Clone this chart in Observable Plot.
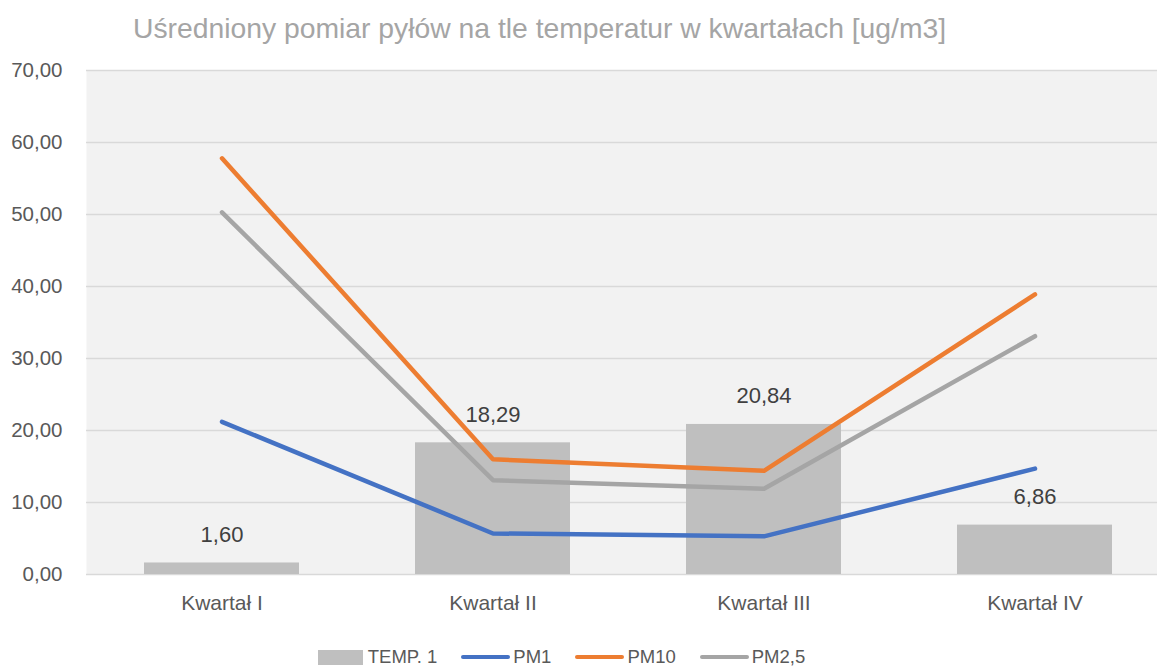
<!DOCTYPE html>
<html><head><meta charset="utf-8">
<script src="https://cdn.jsdelivr.net/npm/d3@7"></script>
<script src="https://cdn.jsdelivr.net/npm/@observablehq/plot@0.6"></script>
<style>
body{margin:0;background:#fff;font-family:"Liberation Sans",Arial,sans-serif;width:1157px;height:668px;overflow:hidden}
#title{height:56px;position:relative}
#title span{position:absolute;left:133px;top:12px;font-size:28.3px;color:#a5a5a5;white-space:nowrap;line-height:32px}
#legend{display:flex;justify-content:center;align-items:center;height:34px;font-size:18.5px;color:#595959;padding-right:34px}
.item{display:flex;align-items:center;margin:0 12px}
.sw{width:45px;height:15px;background:#bfbfbf;margin-right:5px}
.ln{width:49px;height:4px;border-radius:2px;margin-right:3px}
</style></head><body>
<div id="title"><span>Uśredniony pomiar pyłów na tle temperatur w kwartałach [ug/m3]</span></div>
<div id="chart"></div>
<div id="legend"></div>
<script>
const categories = ["Kwartał I", "Kwartał II", "Kwartał III", "Kwartał IV"];
const temp = [1.60, 18.29, 20.84, 6.86];
const pm1 = [21.2, 5.7, 5.3, 14.7];
const pm10 = [57.8, 16.0, 14.4, 38.9];
const pm25 = [50.3, 13.1, 11.9, 33.1];
const yTicks = [0, 10, 20, 30, 40, 50, 60, 70];
const seriesNames = ["TEMP. 1", "PM1", "PM10", "PM2,5"];
const colors = {"PM1": "#4472c4", "PM10": "#ed7d31", "PM2,5": "#a5a5a5", "TEMP. 1": "#bfbfbf"};

const bars = categories.map((c, i) => ({cat: c, v: temp[i]}));
const lines = [];
[["PM1", pm1], ["PM10", pm10], ["PM2,5", pm25]].forEach(([name, arr]) =>
  arr.forEach((v, i) => lines.push({cat: categories[i], v, s: name})));
const fmt = d => d.toFixed(2).replace(".", ",");

const plot = Plot.plot({
  width: 1157, height: 584,
  marginLeft: 86, marginRight: 0, marginTop: 14, marginBottom: 66,
  style: {fontFamily: '"Liberation Sans", Arial, sans-serif', background: "transparent"},
  x: {domain: categories, range: [86, 1170], paddingInner: 0.428, paddingOuter: 0.214, label: null},
  y: {domain: [0, 70], label: null},
  marks: [
    Plot.frame({fill: "#f2f2f2", stroke: null}),
    Plot.gridY(yTicks, {stroke: "#d9d9d9", strokeOpacity: 1, strokeWidth: 1.5}),
    Plot.axisY(yTicks, {tickSize: 0, tickPadding: 24, tickFormat: fmt, fontSize: 20.5, fill: "#595959", label: null}),
    Plot.axisX({tickSize: 0, tickPadding: 21, fontSize: 21, fill: "#595959", label: null}),
    Plot.barY(bars, {x: "cat", y: "v", fill: "#bfbfbf"}),
    Plot.text(bars, {x: "cat", y: "v", text: d => fmt(d.v), dy: -28, fontSize: 22, fill: "#404040"}),
    Plot.lineY(lines, {x: "cat", y: "v", z: "s", stroke: d => colors[d.s], strokeWidth: 4.5, strokeLinecap: "round", strokeLinejoin: "round"}),
  ]
});
document.getElementById("chart").appendChild(plot);

const lg = document.getElementById("legend");
seriesNames.forEach(n => {
  const it = document.createElement("div"); it.className = "item";
  const sw = document.createElement("div");
  if (n === "TEMP. 1") { sw.className = "sw"; } else { sw.className = "ln"; sw.style.background = colors[n]; }
  it.appendChild(sw);
  const t = document.createElement("span"); t.textContent = n; it.appendChild(t);
  lg.appendChild(it);
});
</script></body></html>
